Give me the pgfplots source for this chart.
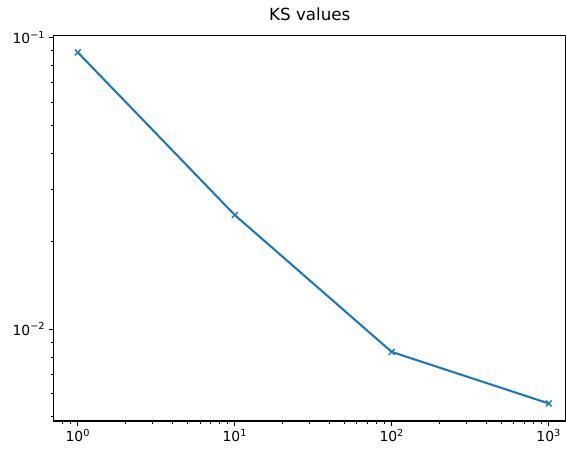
\documentclass[border=0pt]{standalone}
\usepackage{fontspec}
\setmainfont{DejaVu Sans}
\usepackage{pgfplots}
\pgfplotsset{compat=1.18}
\definecolor{mplblue}{HTML}{1F77B4}
\begin{document}
\begin{tikzpicture}
\begin{loglogaxis}[name=ax, scale only axis, width=512.5pt, height=385.3pt,
 xmin=0.70, xmax=1290, ymin=0.00484, ymax=0.1013,
 xtick={1,10,100,1000},
 xticklabels={10\textsuperscript{0},10\textsuperscript{1},10\textsuperscript{2},10\textsuperscript{3}},
 minor xtick={0.8,0.9,2,3,4,5,6,7,8,9,20,30,40,50,60,70,80,90,200,300,400,500,600,700,800,900},
 ytick={0.01,0.1},
 yticklabels={10\textsuperscript{−2},10\textsuperscript{−1}},
 minor ytick={0.005,0.006,0.007,0.008,0.009,0.02,0.03,0.04,0.05,0.06,0.07,0.08,0.09},
 tick align=outside, tick pos=left,
 major tick length=4.9pt, minor tick length=2.8pt,
 every tick/.style={black, line width=1.1pt},
 every minor tick/.style={black, line width=0.83pt},
 axis line style={black, line width=1.1pt},
 tick label style={font=\fontsize{13.9}{14}\selectfont},
 title={KS values},
 title style={font=\fontsize{16.7}{17}\selectfont, anchor=base, at={(0.5,1)}, yshift=9.7pt},
]
\addplot[mplblue, line width=2.08pt, mark=x, mark size=4.2pt, mark options={solid, line width=1.39pt}]
 coordinates {(1,0.0888)(10,0.0246)(100,0.00835)(1000,0.00556)};
\end{loglogaxis}
\pgfresetboundingbox
\path ([xshift=-53.5pt,yshift=-29pt]ax.south west) rectangle ([yshift=35.7pt]ax.north east);
\end{tikzpicture}
\end{document}
